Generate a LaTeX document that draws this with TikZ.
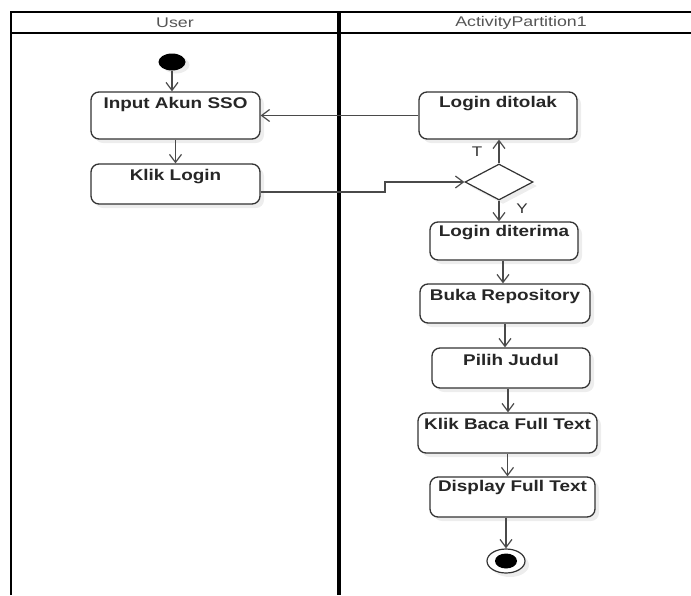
\documentclass[tikz,border=0pt]{standalone}
\usepackage{fontspec}
\setmainfont{Liberation Sans}[FakeStretch=1.22]
\newfontfamily\hdrfont{Liberation Sans}[FakeStretch=1.27]
\usetikzlibrary{arrows.meta,shapes.geometric,shadows,calc}
\definecolor{boxline}{HTML}{333333}
\definecolor{flowline}{HTML}{4A4A4A}
\definecolor{hdrtext}{HTML}{555555}
\begin{document}
\begin{tikzpicture}[x=1pt,y=-1pt,
  act/.style={draw=boxline, line width=1.3pt, rounded corners=8pt, fill=white,
    inner sep=0pt, drop shadow={shadow xshift=4pt, shadow yshift=-4pt, fill=gray!14, opacity=1}},
  acttext/.style={anchor=center, inner sep=0pt, font=\fontsize{15.5}{18}\selectfont\bfseries, text=black!85},
  flow/.style={draw=flowline, line width=1.2pt, -{Straight Barb[length=8pt,width=12pt,line width=1.2pt]}},
  lane/.style={draw=black, line width=2.5pt},
  hdr/.style={font=\hdrfont\fontsize{14}{16}\selectfont, text=hdrtext, inner sep=0pt},
  guard/.style={font=\fontsize{14}{16}\selectfont, text=black!80, inner sep=0pt}
]
\useasboundingbox (0,0) rectangle (691,595);
% swimlanes
\draw[lane] (11,595) -- (11,12) -- (691,12);
\draw[lane] (11,33) -- (691,33);
\draw[draw=black, line width=3.5pt] (339,12) -- (339,595);
\node[hdr] (hUser) at (175,22.5) {User};
\node[hdr] (hAP) at (521,22.5) {ActivityPartition1};

% start
\node[ellipse, fill=black, minimum width=27pt, minimum height=17pt, inner sep=0pt,
  drop shadow={shadow xshift=4pt, shadow yshift=-3pt, fill=gray!14, opacity=1}] (start) at (172,62) {};

% activities
\node[act, minimum width=169pt, minimum height=47pt] (input) at (175.5,115.5) {};
\node[acttext] at ([yshift=-13pt]input.north) {Input Akun SSO};
\node[act, minimum width=169pt, minimum height=40pt] (klik) at (175.5,184) {};
\node[acttext] at ([yshift=-13pt]klik.north) {Klik Login};
\node[act, minimum width=158pt, minimum height=47pt] (tolak) at (498,115.5) {};
\node[acttext] at ([yshift=-12pt]tolak.north) {Login ditolak};
\node[diamond, draw=boxline, line width=1.2pt, fill=white, minimum width=68pt, minimum height=36pt, inner sep=0pt,
  drop shadow={shadow xshift=4pt, shadow yshift=-4pt, fill=gray!14, opacity=1}] (dec) at (499,182) {};
\node[act, minimum width=148pt, minimum height=38pt] (terima) at (504,241) {};
\node[acttext] at ([yshift=-11pt]terima.north) {Login diterima};
\node[act, minimum width=170pt, minimum height=39pt] (buka) at (505,303.5) {};
\node[acttext] at ([yshift=-13pt]buka.north) {Buka Repository};
\node[act, minimum width=158pt, minimum height=40pt] (pilih) at (511,368) {};
\node[acttext] at ([yshift=-13pt]pilih.north) {Pilih Judul};
\node[act, minimum width=179pt, minimum height=40pt] (baca) at (507.5,433) {};
\node[acttext] at ([yshift=-12pt]baca.north) {Klik Baca Full Text};
\node[act, minimum width=165pt, minimum height=40pt] (disp) at (512.5,497) {};
\node[acttext] at ([yshift=-11pt]disp.north) {Display Full Text};

% end
\node[ellipse, draw=boxline, line width=1.2pt, fill=white, minimum width=38pt, minimum height=24pt, inner sep=0pt,
  drop shadow={shadow xshift=4pt, shadow yshift=-4pt, fill=gray!14, opacity=1}] (end) at (506,561) {};
\node[ellipse, fill=black, minimum width=22pt, minimum height=15pt, inner sep=0pt] (endin) at (end.center) {};

% flows
\draw[flow] (start.south) -- (start.south |- input.north);
\draw[flow] (input.south) -- (input.south |- klik.north);
\draw[flow] (tolak.west) -- (input.east);
\coordinate (bend) at (385,182);
\draw[flow] ([yshift=-8pt]klik.east) -| (bend) -- (dec.west);
\draw[flow] (dec.north) -- (dec.north |- tolak.south);
\node[guard] (lT) at (477,152) {T};
\draw[flow] (dec.south) -- (dec.south |- terima.north);
\node[guard] (lY) at (522,209) {Y};
\draw[flow] ([xshift=-1pt]terima.south) -- ([xshift=-1pt]terima.south |- buka.north);
\draw[flow] (buka.south) -- (buka.south |- pilih.north);
\draw[flow] ([xshift=-3pt]pilih.south) -- ([xshift=-3pt]pilih.south |- baca.north);
\draw[flow] (baca.south) -- (baca.south |- disp.north);
\draw[flow] (end.north |- disp.south) -- (end.north);
\end{tikzpicture}
\end{document}
